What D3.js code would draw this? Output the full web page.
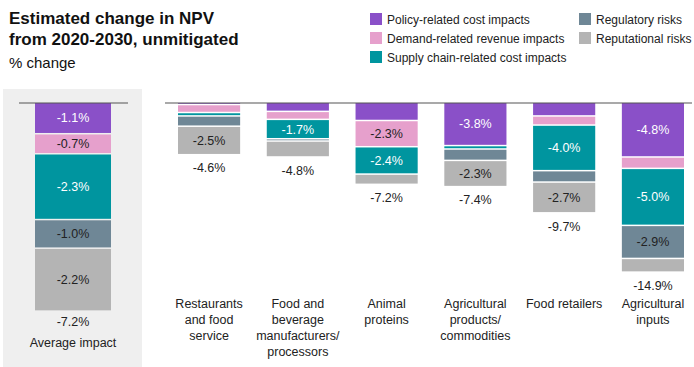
<!DOCTYPE html>
<html>
<head>
<meta charset="utf-8">
<script src="https://cdn.jsdelivr.net/npm/d3@7"></script>
<style>
  body { margin: 0; background: #fff; }
  svg text { font-family: "Liberation Sans", Arial, sans-serif; }
</style>
</head>
<body>
<svg id="chart" width="694" height="367"></svg>
<script>
// series in stacking order (top of bar first)
var series = ["Policy-related cost impacts", "Demand-related revenue impacts",
              "Supply chain-related cost impacts", "Regulatory risks", "Reputational risks"];
var colours = ["#8a50c8", "#e6a0cc", "#00959f", "#6f8796", "#b4b4b4"];
var darkText = [false, true, false, true, true];

var categories = ["Restaurants\nand food\nservice",
                  "Food and\nbeverage\nmanufacturers/\nprocessors",
                  "Animal\nproteins",
                  "Agricultural\nproducts/\ncommodities",
                  "Food retailers",
                  "Agricultural\ninputs"];

// % change per series, one value per category
var policy     = [-0.2, -0.8, -1.6, -3.8, -1.2, -4.8];
var demand     = [-0.7, -0.7, -2.3,  0.0, -0.8, -1.0];
var supply     = [-0.3, -1.7, -2.4, -0.3, -4.0, -5.0];
var regulatory = [-0.9, -0.2,  0.0, -1.0, -1.0, -2.9];
var reputation = [-2.5, -1.4, -0.9, -2.3, -2.7, -1.2];
var totals     = [-4.6, -4.8, -7.2, -7.4, -9.7, -14.9];

var avgLabel = "Average impact";
var avgValues = [-1.1, -0.7, -2.3, -1.0, -2.2];
var avgTotal = -7.2;

var fmt = function(v) { return v.toFixed(1) + "%"; };

var svg = d3.select("#chart");

// title block
var title = svg.append("text").attr("x", 9).attr("y", 24)
    .style("font-size", "17px").style("font-weight", "bold").attr("fill", "#111");
title.append("tspan").attr("x", 9).text("Estimated change in NPV");
title.append("tspan").attr("x", 9).attr("dy", 21).text("from 2020-2030, unmitigated");
svg.append("text").attr("x", 9).attr("y", 68)
    .style("font-size", "15px").attr("fill", "#111").text("% change");

// legend
var legendPos = [[370, 13], [370, 32], [370, 51], [579, 13], [579, 32]];
var legend = svg.selectAll(".legend")
    .data(series)
  .enter().append("g")
    .attr("class", "legend")
    .attr("transform", function(d, i) { return "translate(" + legendPos[i][0] + "," + legendPos[i][1] + ")"; });
legend.append("rect").attr("width", 12).attr("height", 12)
    .attr("fill", function(d, i) { return colours[i]; });
legend.append("text").attr("x", 17).attr("y", 10.5)
    .style("font-size", "12px").attr("fill", "#222")
    .text(function(d) { return d; });

// average panel background
svg.append("rect").attr("x", 3).attr("y", 89).attr("width", 139).attr("height", 278)
    .attr("fill", "#efefef");

var gap = 1.5;

function drawBars(g, cats, rows, x, y, labelMin) {
  // rows[i] = values of category i, in series order
  var stacked = rows.map(function(vals, ci) {
    var acc = 0;
    return vals.map(function(v, si) {
      var s = {cat: cats[ci], si: si, v: v, y0: acc, y1: acc + v};
      acc += v;
      return s;
    });
  });
  var seg = g.selectAll(".seg")
      .data(d3.merge(stacked).filter(function(d) { return d.v !== 0; }))
    .enter().append("g").attr("class", "seg");
  seg.append("rect")
      .attr("x", function(d) { return x(d.cat); })
      .attr("width", x.bandwidth())
      .attr("y", function(d) { return y(d.y0); })
      .attr("height", function(d) { return Math.max(0.8, y(d.y1) - y(d.y0) - gap); })
      .attr("fill", function(d) { return colours[d.si]; });
  seg.filter(function(d) { return Math.abs(d.v) >= labelMin; })
    .append("text")
      .attr("x", function(d) { return x(d.cat) + x.bandwidth() / 2; })
      .attr("y", function(d) { return (y(d.y0) + y(d.y1) - gap) / 2; })
      .attr("dy", "0.36em")
      .attr("text-anchor", "middle")
      .style("font-size", "12.5px")
      .attr("fill", function(d) { return darkText[d.si] ? "#222" : "#fff"; })
      .text(function(d) { return fmt(d.v); });
}

var base = 103;

// average panel
var xa = d3.scaleBand().domain([avgLabel]).range([35, 111]).padding(0);
var ya = d3.scaleLinear().domain([0, -7.2]).range([base, 309]);
var ga = svg.append("g");
drawBars(ga, [avgLabel], [avgValues], xa, ya, 0);
ga.append("line").attr("x1", 19).attr("x2", 128).attr("y1", base).attr("y2", base)
    .attr("stroke", "#555").attr("stroke-width", 1.2);
ga.append("text").attr("x", xa(avgLabel) + xa.bandwidth() / 2).attr("y", ya(avgTotal) + 17)
    .attr("text-anchor", "middle").style("font-size", "12.5px").attr("fill", "#222")
    .text(fmt(avgTotal));
ga.append("text").attr("x", xa(avgLabel) + xa.bandwidth() / 2).attr("y", 347)
    .attr("text-anchor", "middle").style("font-size", "12.5px").attr("fill", "#222")
    .text(avgLabel);

// sector panel
var x = d3.scaleBand().domain(categories).range([178, 684]).paddingInner(0.3).paddingOuter(0);
var y = d3.scaleLinear().domain([0, -15]).range([base, base + 15 * 11.4]);
var rows = categories.map(function(c, i) {
  return [policy[i], demand[i], supply[i], regulatory[i], reputation[i]];
});
var gs = svg.append("g");
drawBars(gs, categories, rows, x, y, 1.7);
gs.append("line").attr("x1", 165).attr("x2", 692).attr("y1", base).attr("y2", base)
    .attr("stroke", "#555").attr("stroke-width", 1.2);

gs.selectAll(".total")
    .data(categories)
  .enter().append("text")
    .attr("class", "total")
    .attr("x", function(d) { return x(d) + x.bandwidth() / 2; })
    .attr("y", function(d, i) { return y(totals[i]) + 17; })
    .attr("text-anchor", "middle")
    .style("font-size", "12.5px").attr("fill", "#222")
    .text(function(d, i) { return fmt(totals[i]); });

var catLabel = gs.selectAll(".cat")
    .data(categories)
  .enter().append("text")
    .attr("class", "cat")
    .attr("text-anchor", "middle")
    .style("font-size", "12.5px").attr("fill", "#222");
catLabel.selectAll("tspan")
    .data(function(d) { return d.split("\n").map(function(t) { return {cat: d, t: t}; }); })
  .enter().append("tspan")
    .attr("x", function(d) { return x(d.cat) + x.bandwidth() / 2; })
    .attr("y", function(d, i) { return 308 + i * 16; })
    .text(function(d) { return d.t; });
</script>
</body>
</html>
